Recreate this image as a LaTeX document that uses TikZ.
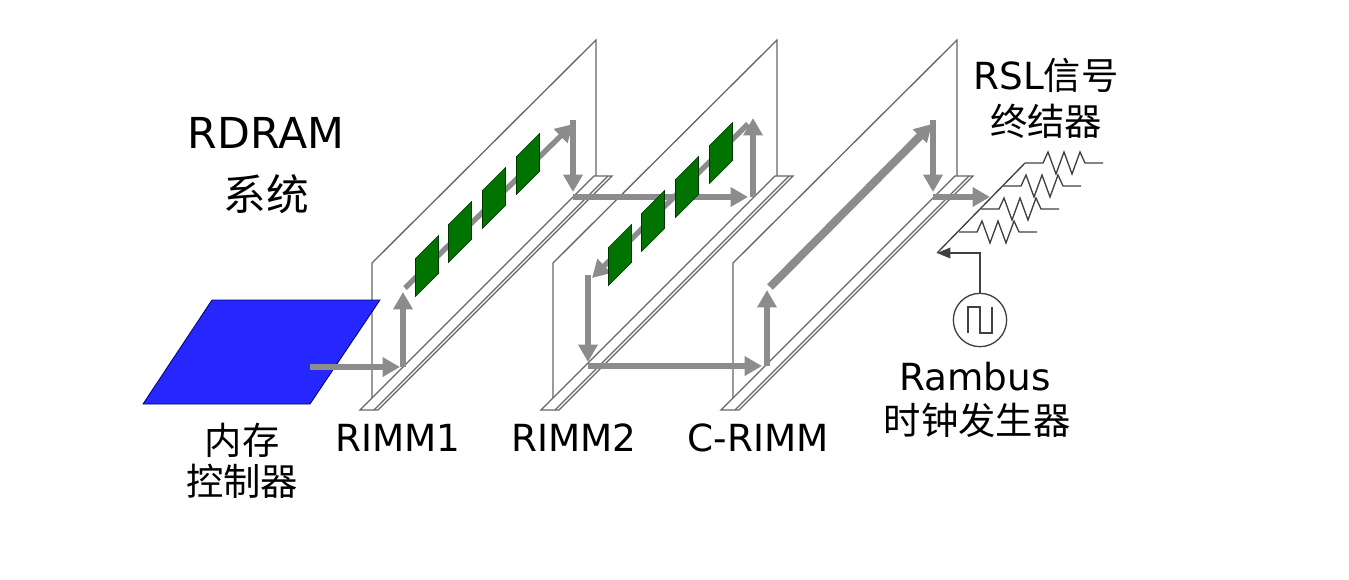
\documentclass[tikz,border=0pt]{standalone}
\usepackage{fontspec}
\setmainfont{DejaVu Sans}
\newfontfamily\cjk{Noto Sans CJK SC}
\usetikzlibrary{arrows.meta}
\tikzset{
  edge/.style={draw=black!60,line width=1pt},
  slot/.style={draw=black!60,fill=white,line width=1pt},
  sig/.style={draw=black!45,line width=4pt,-{Triangle[length=13pt,width=14pt]}},
  chip/.style={fill=green!45!black,draw=green!20!black,line width=0.4pt},
  lbl/.style={font=\fontsize{28}{30}\selectfont,inner sep=0pt},
  big/.style={font=\fontsize{32}{36}\selectfont,inner sep=0pt},
  wire/.style={draw=black!75,line width=1pt}
}
\newcommand{\myboard}[1]{%
  \draw[edge] (#1,400)--(#1,263)--(#1+224,40)--(#1+224,183);
  \draw[edge] (#1+8,400)--(#1+224,184);
  \draw[slot] (#1-12,410)--(#1+6,410)--(#1+240,176)--(#1+222,176)--cycle;
  \draw[edge] (#1+2,410)--(#1+236,176);
}
\newcommand{\mychip}[2]{%
  \fill[chip] (#1-11.5,#2+11.5-19)--(#1+11.5,#2-11.5-19)--(#1+11.5,#2-11.5+19)--(#1-11.5,#2+11.5+19)--cycle;
}
\begin{document}
\begin{tikzpicture}[x=0.75pt,y=-0.75pt]
\useasboundingbox (0,0) rectangle (1349,579);
\myboard{372}
\myboard{553}
\myboard{733}
\filldraw[fill=blue!85!white,draw=blue!40!black,line width=0.6pt] (143,404)--(310,404)--(380,300)--(212,300)--cycle;
\coordinate (m1) at (310,367);
\coordinate (a1) at (400,367);
\draw[sig] (m1)--(a1);
\coordinate (b1) at (403,367);
\coordinate (c1) at (403,292);
\draw[sig] (b1)--(c1);
\coordinate (d1) at (405,288);
\coordinate (e1) at (573,124);
\draw[sig] (d1)--(e1);
\coordinate (f1) at (573,120);
\coordinate (g1) at (573,192);
\draw[sig] (f1)--(g1);
\mychip{427}{266}\mychip{460}{232}\mychip{494}{198}\mychip{528}{164}
\coordinate (h1) at (573,197);
\coordinate (i1) at (748,197);
\draw[sig] (h1)--(i1);
\coordinate (a2) at (753,197);
\coordinate (b2) at (753,118);
\draw[sig] (a2)--(b2);
\coordinate (c2) at (748,124);
\coordinate (d2) at (592,278);
\draw[sig] (c2)--(d2);
\mychip{620}{255}\mychip{653}{221}\mychip{687}{187}\mychip{721}{153}
\coordinate (e2) at (588,275);
\coordinate (f2) at (588,362);
\draw[sig] (e2)--(f2);
\coordinate (g2) at (588,366);
\coordinate (h2) at (762,366);
\draw[sig] (g2)--(h2);
\coordinate (a3) at (767,366);
\coordinate (b3) at (767,290);
\draw[sig] (a3)--(b3);
\coordinate (c3) at (770,287);
\coordinate (d3) at (932,124);
\draw[sig,line width=6pt] (c3)--(d3);
\coordinate (e3) at (933,120);
\coordinate (f3) at (933,192);
\draw[sig] (e3)--(f3);
\coordinate (g3) at (933,197);
\coordinate (h3) at (990,197);
\draw[sig] (g3)--(h3);
% resistors
\coordinate (r0) at (937,253);
\coordinate (r4) at (1025,163);
\draw[wire] (r0)--(r4);
\foreach \k in {0,1,2,3}{
  \pgfmathsetmacro{\sx}{1025-22*\k}
  \pgfmathsetmacro{\sy}{163+23*\k}
  \draw[wire] (\sx,\sy)--++(18,0)--++(5,-11)--++(8,22)--++(8,-22)--++(8,22)--++(8,-22)--++(5,11)--++(18,0);
}
\node[circle,draw=black!75,line width=1pt,minimum size=40pt,inner sep=0pt] (clk) at (980,320) {};
\draw[wire] (968,333)--(968,307)--(980,307)--(980,333)--(992,333)--(992,307);
\coordinate (ck1) at (980,253);
\coordinate (ck2) at (937,253);
\draw[wire,-{Triangle[length=10pt,width=8pt]}] (clk.north)--(ck1)--(ck2);
\node[big] (t1) at (266,133) {RDRAM};
\node[big] (t2) at (266,194) {\cjk 系统};
\node[lbl] (t3) at (242,440) {\cjk 内存};
\node[lbl] (t4) at (242,481) {\cjk 控制器};
\node[lbl] (t5) at (398,438) {RIMM1};
\node[lbl] (t6) at (574,438) {RIMM2};
\node[lbl] (t7) at (758,438) {C-RIMM};
\node[lbl] (t8) at (1046,75) {RSL{\cjk 信号}};
\node[lbl] (t9) at (1046,121) {\cjk 终结器};
\node[lbl] (t10) at (975,377) {Rambus};
\node[lbl] (t11) at (977,420) {\cjk 时钟发生器};
\end{tikzpicture}
\end{document}
